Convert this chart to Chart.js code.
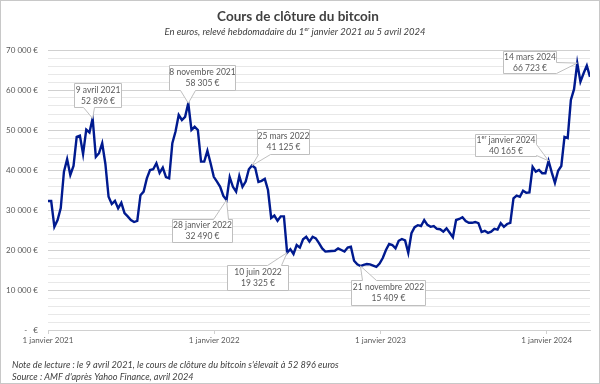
<!DOCTYPE html>
<html lang="fr">
<head>
<meta charset="utf-8">
<script src="https://cdn.jsdelivr.net/npm/chart.js@4.4.1/dist/chart.umd.min.js"></script>
<style>
  html, body { margin: 0; padding: 0; background: #fff; }
  canvas { display: block; }
</style>
</head>
<body>
<canvas id="chart" width="600" height="384"></canvas>
<script>
// Weekly close, EUR, starting 1 Jan 2021 (one value per week, 171 weeks)
const startDate = '2021-01-01';
const weeklyClose = [
  32250, 32250, 25800, 27500, 30500, 39600, 42700, 38750, 41000, 48300,
  48600, 44000, 50100, 49400, 52896, 43300, 44200, 46700, 41500, 33300,
  31500, 32300, 30400, 31800, 29200, 28400, 27500, 27000, 27300, 33700,
  34600, 37900, 40000, 40200, 41700, 39300, 40600, 38200, 37900, 46700,
  49600, 53750, 52500, 53300, 56700, 50000, 50800, 50000, 42100, 42100,
  44800, 41700, 38300, 37100, 35800, 33500, 32490, 38200, 35800, 34600,
  38500, 35800, 37100, 40200, 41125, 40500, 37000, 37300, 37800, 35000,
  28000, 28600, 27300, 28400, 28400, 19325, 20200, 19000, 21250, 20600,
  22700, 23300, 22100, 23300, 22900, 21700, 20400, 19600, 19700, 19750,
  19800, 20400, 20000, 19600, 20600, 20800, 17300, 16400, 16000, 16300,
  16500, 16400, 16100, 15800, 16600, 18000, 20000, 21500, 21250, 20400,
  22300, 22750, 22400, 19300, 24200, 25700, 26200, 26000, 27500, 26300,
  25800, 26000, 25300, 25200, 24600, 25400, 24300, 23200, 27500, 27750,
  28200, 27250, 26800, 26800, 27000, 26700, 24500, 24800, 24300, 24600,
  25300, 25100, 26700, 25800, 26500, 26800, 32900, 33600, 33300, 34800,
  34300, 34400, 40800, 39600, 40000, 39200, 39200, 42300, 39400, 36800,
  39800, 41000, 48300, 48000, 57500, 60200, 66723, 62100, 64200, 66100,
  63300
];

// x axis: days since 1 Jan 2021
const yearTickDays = [0, 365, 730, 1095];
const yearTickLabels = ['1 janvier 2021', '1 janvier 2022', '1 janvier 2023', '1 janvier 2024'];
const yTickValues = [0, 10000, 20000, 30000, 40000, 50000, 60000, 70000];
const yTickLabels = ['-   €', '10 000 €', '20 000 €', '30 000 €', '40 000 €', '50 000 €', '60 000 €', '70 000 €'];

// callouts ('^' wraps superscript text)
const calloutWeeks = [14, 44, 56, 64, 75, 98, 157, 166];
const calloutDates = ['9 avril 2021', '8 novembre 2021', '28 janvier 2022', '25 mars 2022',
  '10 juin 2022', '21 novembre 2022', '1^er^ janvier 2024', '14 mars 2024'];
const calloutPrices = ['52 896 €', '58 305 €', '32 490 €', '41 125 €',
  '19 325 €', '15 409 €', '40 165 €', '66 723 €'];

const titleText = 'Cours de clôture du bitcoin';
const subtitleText = 'En euros, relevé hebdomadaire du 1^er^ janvier 2021 au 5 avril 2024';
const noteLines = [
  "Note de lecture : le 9 avril 2021, le cours de clôture du bitcoin s'élevait à 52 896 euros",
  "Source : AMF d'après Yahoo Finance, avril 2024"
];

const FONT = 'Lato, "Noto Sans", sans-serif';
const LINE_COLOR = '#001a8f';

const points = weeklyClose.map((v, i) => ({ x: i * 7, y: v }));

// box placement relative to the marked point
const boxLayout = [
  { dx: 5, dy: -23.4, w: 47, h: 24, side: 'bottom', a: 9, b: 20 },
  { dx: 14, dy: -25.7, w: 66, h: 25, side: 'bottom', a: 11, b: 26 },
  { dx: -24.3, dy: 30.5, w: 60, h: 23, side: 'top', a: 41, b: 56 },
  { dx: 30.7, dy: -24, w: 52, h: 25, side: 'bottom', a: 1, b: 13 },
  { dx: -29.8, dy: 24.8, w: 61, h: 25, side: 'top', a: 40, b: 54 },
  { dx: 28, dy: 26.5, w: 74, h: 25, side: 'top', a: 11, b: 25 },
  { dx: -43.4, dy: -16.3, w: 61, h: 22, side: 'right', a: 10, b: 21 },
  { dx: -48.2, dy: -1.6, w: 53, h: 22, side: 'right', a: 11, b: 22 }
];

function richWidth(ctx, text, font, supFont) {
  const parts = text.split('^');
  let w = 0;
  parts.forEach((p, i) => {
    ctx.font = i % 2 ? supFont : font;
    w += ctx.measureText(p).width;
  });
  return w;
}

function drawRich(ctx, text, cx, y, font, supFont) {
  const parts = text.split('^');
  let x = cx - richWidth(ctx, text, font, supFont) / 2;
  ctx.textAlign = 'left';
  parts.forEach((p, i) => {
    const sup = i % 2 === 1;
    ctx.font = sup ? supFont : font;
    ctx.fillText(p, x, sup ? y - 3 : y);
    x += ctx.measureText(p).width;
  });
}

function calloutPath(ctx, L, T, w, h, side, a, b, tx, ty) {
  const R = L + w, B = T + h;
  ctx.beginPath();
  ctx.moveTo(L, T);
  if (side === 'top') {
    ctx.lineTo(L + a, T); ctx.lineTo(tx, ty); ctx.lineTo(L + b, T);
  }
  ctx.lineTo(R, T);
  if (side === 'right') {
    ctx.lineTo(R, T + a); ctx.lineTo(tx, ty); ctx.lineTo(R, T + b);
  }
  ctx.lineTo(R, B);
  if (side === 'bottom') {
    ctx.lineTo(L + b, B); ctx.lineTo(tx, ty); ctx.lineTo(L + a, B);
  }
  ctx.lineTo(L, B);
  ctx.closePath();
}

const textPlugin = {
  id: 'texts',
  afterDraw(chart) {
    const ctx = chart.ctx;
    const xs = chart.scales.x, ys = chart.scales.y;
    ctx.save();
    ctx.textBaseline = 'middle';

    // title + subtitle
    ctx.fillStyle = '#404040';
    ctx.textAlign = 'center';
    ctx.font = 'bold 13.5px ' + FONT;
    ctx.fillText(titleText, 298, 17);
    drawRich(ctx, subtitleText, 295, 32, 'italic 9.5px ' + FONT, 'italic 6px ' + FONT);

    // callouts
    calloutWeeks.forEach((wk, i) => {
      const lay = boxLayout[i];
      const px = xs.getPixelForValue(wk * 7);
      const py = ys.getPixelForValue(weeklyClose[wk]);
      const L = Math.round(px + lay.dx - lay.w / 2) + 0.5;
      const T = Math.round(py + lay.dy - lay.h / 2) + 0.5;
      calloutPath(ctx, L, T, lay.w, lay.h, lay.side, lay.a, lay.b, px, py);
      ctx.fillStyle = '#ffffff';
      ctx.fill();
      ctx.strokeStyle = '#bfbfbf';
      ctx.lineWidth = 1;
      ctx.stroke();
      ctx.fillStyle = '#595959';
      const cx = L + lay.w / 2, cy = T + lay.h / 2;
      drawRich(ctx, calloutDates[i], cx, cy - 5.5, '8.5px ' + FONT, '5.5px ' + FONT);
      drawRich(ctx, calloutPrices[i], cx, cy + 5.5, '8.5px ' + FONT, '5.5px ' + FONT);
    });

    // notes
    ctx.fillStyle = '#404040';
    ctx.textAlign = 'left';
    ctx.font = 'italic 9.2px ' + FONT;
    ctx.fillText(noteLines[0], 12, 365);
    ctx.fillText(noteLines[1], 12, 377);

    // frame
    ctx.strokeStyle = '#c8c8c8';
    ctx.lineWidth = 1;
    ctx.strokeRect(0.5, 0.5, 599, 383);
    ctx.restore();
  }
};

new Chart(document.getElementById('chart'), {
  type: 'line',
  data: {
    datasets: [{
      data: points,
      borderColor: LINE_COLOR,
      borderWidth: 2.4,
      pointRadius: 0,
      tension: 0,
      fill: false
    }]
  },
  options: {
    responsive: false,
    animation: false,
    layout: { padding: { top: 50, right: 10, left: 0, bottom: 0 } },
    plugins: { legend: { display: false }, tooltip: { enabled: false } },
    scales: {
      x: {
        type: 'linear',
        min: 0,
        max: (weeklyClose.length - 1) * 7,
        afterBuildTicks: s => { s.ticks = yearTickDays.map(v => ({ value: v })); },
        afterFit: s => { s.height = 54; },
        grid: { drawOnChartArea: false, drawTicks: true, tickLength: 4, color: '#d0d0d0' },
        border: { color: '#d0d0d0' },
        ticks: {
          autoSkip: false,
          maxRotation: 0,
          padding: 2,
          color: '#595959',
          font: { family: FONT, size: 8 },
          callback: (v, i) => yearTickLabels[i]
        }
      },
      y: {
        min: 0,
        max: 70000,
        afterFit: s => { s.width = 48; },
        ticks: {
          stepSize: 2000,
          autoSkip: false,
          padding: 10,
          color: '#595959',
          font: { family: FONT, size: 8 },
          callback: v => {
            const k = yTickValues.indexOf(v);
            return k >= 0 ? yTickLabels[k] : '';
          }
        },
        grid: {
          drawTicks: false,
          color: c => (c.tick && c.tick.value % 10000 === 0) ? '#d0d0d0' : '#e8e8e8'
        },
        border: { display: false }
      }
    }
  },
  plugins: [textPlugin]
});
</script>
</body>
</html>
